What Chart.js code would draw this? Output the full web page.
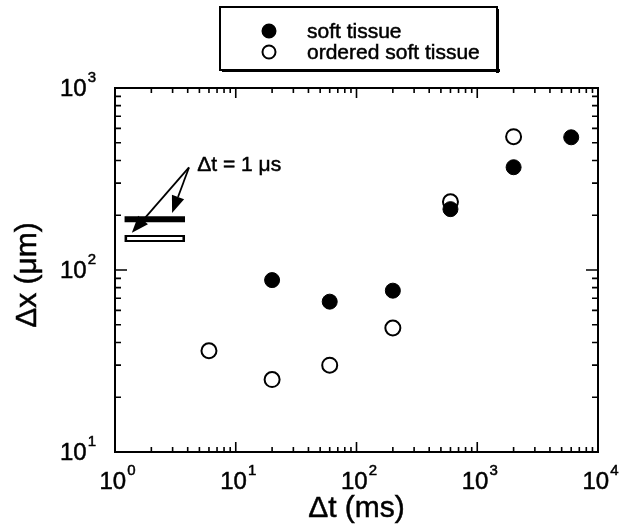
<!DOCTYPE html>
<html>
<head>
<meta charset="utf-8">
<script src="https://cdn.jsdelivr.net/npm/chart.js@4/dist/chart.umd.min.js"></script>
<style>
  html, body { margin: 0; padding: 0; background: #fff; }
  #wrap { width: 619px; height: 527px; }
</style>
</head>
<body>
<div id="wrap"><canvas id="chart" width="619" height="527"></canvas></div>
<script>
// Data
const seriesNames = ['soft tissue', 'ordered soft tissue'];
const dtSoft = [20, 60, 200, 600, 2000, 6000];
const dxSoft = [88, 67, 77, 216, 367, 536];
const dtOrdered = [6, 20, 60, 200, 600, 2000];
const dxOrdered = [36, 25, 30, 48, 237, 540];

// the two 1 us bars (left end, right end) and their heights
const barDt = [1.2, 3.8];
const barInnerDt = [1.26, 3.62];
const barSoftDx = 190;
const barOrderedDx = 149;

// annotation
const noteText = 'Δt = 1 μs';
const notePoint = [4.8, 378];
const arrowTail = [4.1, 366];
const arrowTips = [[1.38, 160], [2.97, 206]];

// axes
const xRange = [1, 10000];
const yRange = [10, 1000];
const xTickExp = [0, 1, 2, 3, 4];
const yTickExp = [1, 2, 3];
const xTitle = 'Δt (ms)';
const yTitle = 'Δx (μm)';

const FONT = '"Liberation Sans", Arial, Helvetica, sans-serif';

function toPts(xs, ys) {
  return xs.map((v, i) => ({ x: v, y: ys[i] }));
}

// scanned text looks a bit heavy, so give it a thin outline
function heavyText(ctx, s, x, y) {
  ctx.fillText(s, x, y);
  ctx.lineWidth = 0.5;
  ctx.strokeText(s, x, y);
}

const frameAndLabels = {
  id: 'frameAndLabels',
  afterDraw(chart) {
    const { ctx, chartArea: a, scales } = chart;
    const x = scales.x, y = scales.y;
    ctx.save();
    ctx.strokeStyle = '#000';
    ctx.fillStyle = '#000';

    // frame
    ctx.lineWidth = 2;
    ctx.strokeRect(a.left, a.top, a.right - a.left, a.bottom - a.top);

    // inward ticks on all four sides
    ctx.lineWidth = 1.6;
    ctx.beginPath();
    for (let e = Math.log10(xRange[0]); e < Math.log10(xRange[1]); e++) {
      for (let k = 1; k <= 9; k++) {
        const px = x.getPixelForValue(k * Math.pow(10, e));
        const len = k === 1 ? 10 : 5;
        ctx.moveTo(px, a.bottom); ctx.lineTo(px, a.bottom - len);
        ctx.moveTo(px, a.top); ctx.lineTo(px, a.top + len);
      }
    }
    for (let e = Math.log10(yRange[0]); e < Math.log10(yRange[1]); e++) {
      for (let k = 1; k <= 9; k++) {
        const py = y.getPixelForValue(k * Math.pow(10, e));
        const len = k === 1 ? 12 : 6;
        ctx.moveTo(a.left, py); ctx.lineTo(a.left + len, py);
        ctx.moveTo(a.right, py); ctx.lineTo(a.right - len, py);
      }
    }
    ctx.stroke();

    // tick labels as 10^n
    const baseFont = '24px ' + FONT;
    const expFont = '15px ' + FONT;
    ctx.textBaseline = 'middle';
    xTickExp.forEach(e => {
      const px = x.getPixelForValue(Math.pow(10, e));
      ctx.font = baseFont;
      const w1 = ctx.measureText('10').width;
      ctx.font = expFont;
      const w2 = ctx.measureText(String(e)).width;
      const left = px - (w1 + w2) / 2 + 2;
      ctx.font = baseFont;
      ctx.textAlign = 'left';
      heavyText(ctx, '10', left, 482);
      ctx.font = expFont;
      heavyText(ctx, String(e), left + w1 + 1, 471);
    });
    yTickExp.forEach(e => {
      const py = y.getPixelForValue(Math.pow(10, e));
      ctx.font = expFont;
      const w2 = ctx.measureText(String(e)).width;
      ctx.textAlign = 'right';
      heavyText(ctx, String(e), 96, py - 10);
      ctx.font = baseFont;
      heavyText(ctx, '10', 95 - w2, py + 1);
    });

    // axis titles
    ctx.font = '30px ' + FONT;
    ctx.textAlign = 'center';
    heavyText(ctx, xTitle, (a.left + a.right) / 2, 509);
    ctx.save();
    ctx.translate(28, (a.top + a.bottom) / 2 + 5);
    ctx.rotate(-Math.PI / 2);
    heavyText(ctx, yTitle, 0, 0);
    ctx.restore();

    // annotation text + arrows
    ctx.font = '21px ' + FONT;
    ctx.textAlign = 'left';
    heavyText(ctx, noteText, x.getPixelForValue(notePoint[0]), y.getPixelForValue(notePoint[1]));
    const tx = x.getPixelForValue(arrowTail[0]);
    const ty = y.getPixelForValue(arrowTail[1]);
    arrowTips.forEach(t => {
      const hx = x.getPixelForValue(t[0]);
      const hy = y.getPixelForValue(t[1]);
      const ang = Math.atan2(hy - ty, hx - tx);
      const hl = 17, hw = 6.5;
      const bx = hx - hl * Math.cos(ang), by = hy - hl * Math.sin(ang);
      ctx.lineWidth = 1.8;
      ctx.beginPath();
      ctx.moveTo(tx, ty); ctx.lineTo(bx, by);
      ctx.stroke();
      ctx.beginPath();
      ctx.moveTo(hx, hy);
      ctx.lineTo(bx + hw * Math.sin(ang), by - hw * Math.cos(ang));
      ctx.lineTo(bx - hw * Math.sin(ang), by + hw * Math.cos(ang));
      ctx.closePath();
      ctx.fill();
    });

    // legend box with a heavier bottom/right edge
    const L = 220, T = 7, R = 497, B = 70;
    ctx.lineWidth = 2;
    ctx.strokeRect(L, T, R - L, B - T);
    ctx.fillRect(R - 1, T + 2, 3, B - T + 1);
    ctx.fillRect(L + 2, B - 1, R - L + 1, 3);
    const ds = chart.data.datasets;
    [0, 1].forEach(i => {
      const cy = 31 + i * 21;
      ctx.beginPath();
      ctx.arc(269, cy, 6.5, 0, Math.PI * 2);
      ctx.fillStyle = ds[i].backgroundColor;
      ctx.fill();
      ctx.lineWidth = 2;
      ctx.strokeStyle = '#000';
      ctx.stroke();
      ctx.fillStyle = '#000';
      ctx.font = '21px ' + FONT;
      ctx.textAlign = 'left';
      heavyText(ctx, ds[i].label, 307, cy + 1);
    });
    ctx.restore();
  }
};

const ctx = document.getElementById('chart').getContext('2d');
new Chart(ctx, {
  type: 'scatter',
  data: {
    datasets: [
      {
        label: seriesNames[0],
        data: toPts(dtSoft, dxSoft),
        pointRadius: 7.5,
        pointBackgroundColor: '#000',
        backgroundColor: '#000',
        pointBorderColor: '#000',
        pointBorderWidth: 1,
        clip: false
      },
      {
        label: seriesNames[1],
        data: toPts(dtOrdered, dxOrdered),
        pointRadius: 7.5,
        pointBackgroundColor: '#fff',
        backgroundColor: '#fff',
        pointBorderColor: '#000',
        pointBorderWidth: 2,
        clip: false
      },
      {
        label: 'bar soft',
        data: toPts(barDt, [barSoftDx, barSoftDx]),
        showLine: true,
        borderColor: '#000',
        borderWidth: 6,
        borderCapStyle: 'butt',
        pointRadius: 0
      },
      {
        label: 'bar ordered inner',
        data: toPts(barInnerDt, [barOrderedDx, barOrderedDx]),
        showLine: true,
        borderColor: '#fff',
        borderWidth: 3,
        borderCapStyle: 'butt',
        pointRadius: 0
      },
      {
        label: 'bar ordered outline',
        data: toPts(barDt, [barOrderedDx, barOrderedDx]),
        showLine: true,
        borderColor: '#000',
        borderWidth: 7,
        borderCapStyle: 'butt',
        pointRadius: 0
      }
    ]
  },
  options: {
    responsive: false,
    animation: false,
    layout: { padding: { left: 115, top: 88, right: 21, bottom: 75 } },
    plugins: { legend: { display: false }, tooltip: { enabled: false } },
    scales: {
      x: { type: 'logarithmic', min: xRange[0], max: xRange[1], display: false },
      y: { type: 'logarithmic', min: yRange[0], max: yRange[1], display: false }
    }
  },
  plugins: [frameAndLabels]
});
</script>
</body>
</html>
